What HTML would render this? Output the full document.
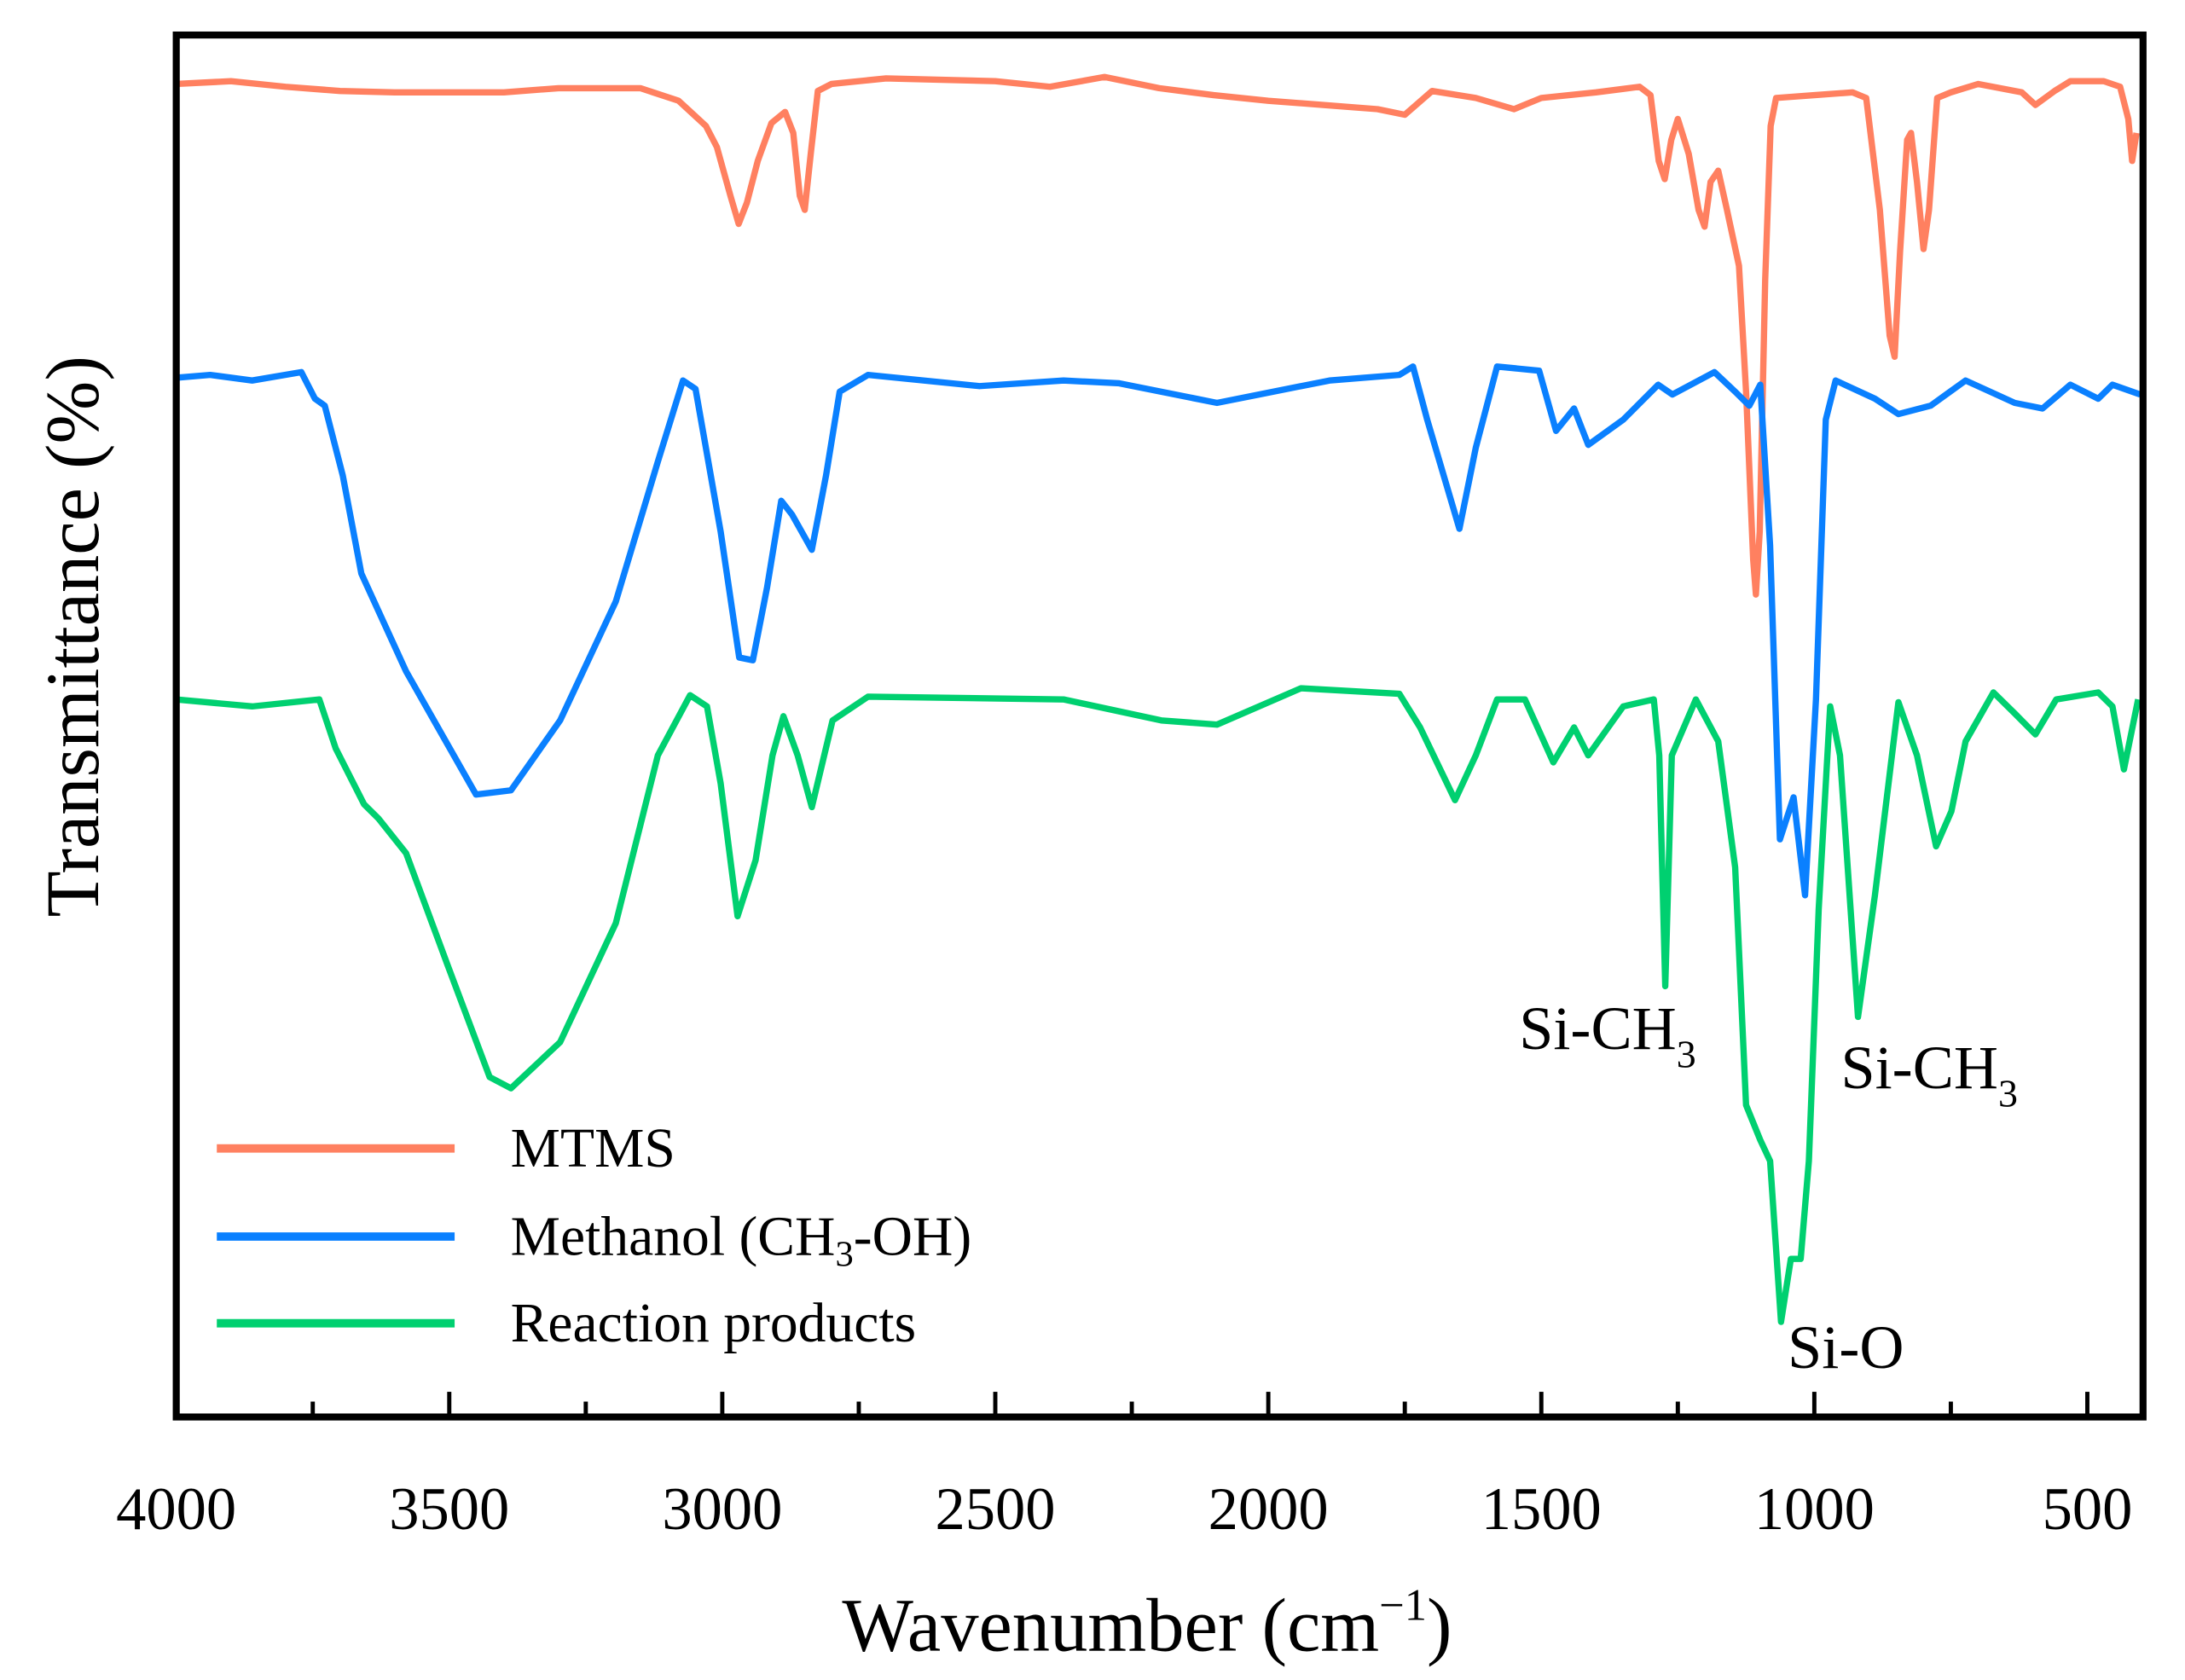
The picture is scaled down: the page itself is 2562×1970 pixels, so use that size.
<!DOCTYPE html>
<html><head><meta charset="utf-8"><style>
html,body{margin:0;padding:0;background:#fff;}
svg{display:block;font-family:"Liberation Serif",serif;}
</style></head><body>
<svg id="chart" width="2562" height="1970" viewBox="0 0 1562 1201" xmlns="http://www.w3.org/2000/svg">
<g id="plot"></g>
<rect x="126" y="25" width="1406" height="988" fill="none" stroke="#000" stroke-width="5"/>
<g id="xticks"></g>
<text x="820" y="1180" font-size="54" text-anchor="middle">Wavenumber (cm<tspan dy="-22" font-size="32">−1</tspan><tspan dy="22">)</tspan></text>
<text transform="translate(70,455) rotate(-90)" font-size="54" text-anchor="middle">Transmittance (%)</text>
<g font-size="40">
<line x1="155" y1="821" x2="325" y2="821" stroke="#FF8060" stroke-width="6"/>
<text x="365" y="834">MTMS</text>
<line x1="155" y1="884" x2="325" y2="884" stroke="#0A80FF" stroke-width="6"/>
<text x="365" y="897">Methanol (CH<tspan dy="8" font-size="26">3</tspan><tspan dy="-8">-OH)</tspan></text>
<line x1="155" y1="946" x2="325" y2="946" stroke="#00D070" stroke-width="6"/>
<text x="365" y="959">Reaction products</text>
</g>
<g font-size="44">
<text x="1086" y="750">Si-CH<tspan dy="13" font-size="28">3</tspan></text>
<text x="1316" y="778">Si-CH<tspan dy="13" font-size="28">3</tspan></text>
<text x="1278" y="978">Si-O</text>
</g>
</svg>
<script>
const mtmsWn=[4000,3900,3800,3700,3600,3400,3300,3150,3080,3030,3010,2985,2970,2955,2935,2910,2885,2870,2858,2849,2838,2825,2800,2700,2500,2400,2300,2200,2100,2000,1900,1800,1750,1700,1620,1550,1500,1400,1320,1300,1285,1274,1262,1250,1230,1212,1201,1190,1176,1160,1138,1125,1112,1107,1100,1090,1080,1070,1000,930,905,880,862,853,843,830,823,812,800,790,775,750,700,620,595,560,531,470,440,425,418,410];
const mtmsVal=[953,955,951,948,947,947,950,950,941,923,908,873,853,868,898,925,933,918,873,863,903,948,953,957,955,951,958,950,945,941,938,935,931,948,943,935,943,947,951,945,898,885,913,928,903,863,851,883,891,863,823,733,613,588,633,813,923,943,945,947,943,863,773,758,833,913,918,883,835,863,943,947,953,947,938,948,955,955,951,928,898,918];
const methWn=[4000,3938,3861,3771,3746,3728,3695,3661,3579,3451,3387,3297,3195,3118,3072,3049,3003,2969,2944,2918,2892,2872,2836,2810,2785,2733,2529,2375,2273,2094,2017,1888,1760,1735,1709,1650,1620,1581,1504,1473,1440,1414,1350,1286,1260,1183,1145,1119,1099,1081,1063,1038,1017,997,979,961,889,846,787,723,633,582,531,480,454,403];
const methVal=[743,745,741,747,728,723,673,603,533,445,448,498,583,683,741,735,633,543,541,593,655,645,620,673,733,745,737,741,739,725,731,741,745,751,713,635,693,751,748,705,721,695,713,738,731,747,733,723,738,623,413,443,373,513,713,741,728,717,723,741,725,721,738,728,738,731];
const reacWn=[4000,3861,3738,3708,3656,3630,3579,3503,3426,3387,3297,3195,3118,3059,3028,3003,2972,2939,2908,2888,2862,2836,2798,2733,2375,2196,2094,1940,1760,1722,1658,1620,1581,1530,1478,1440,1414,1350,1294,1284,1273,1261,1217,1176,1145,1125,1099,1081,1061,1043,1025,1010,992,971,953,920,889,846,812,777,749,723,672,633,595,557,480,454,433,407];
const reacVal=[513,508,513,478,438,428,403,323,243,235,268,353,473,516,508,453,358,398,473,501,473,436,498,515,513,498,495,521,517,493,441,473,513,513,468,493,473,508,513,473,308,473,513,483,393,223,198,183,68,113,113,183,363,508,473,286,373,511,473,408,433,483,518,503,488,513,518,508,463,513];
const xTicks=[4000,3500,3000,2500,2000,1500,1000,500];
const xTickLabels=["4000","3500","3000","2500","2000","1500","1000","500"];

const X0=126,X1=1532,W0=4000,W1=398,YB=1013;
function xs(w){return X0+(W0-w)/(W0-W1)*(X1-X0);}
function ys(v){return YB-v;}
const NS="http://www.w3.org/2000/svg";
const plot=document.getElementById('plot');
function drawSeries(wn,val,color,name){
  const p=document.createElementNS(NS,'path');
  let d='';
  for(let i=0;i<wn.length;i++){d+=(i?'L':'M')+xs(wn[i]).toFixed(2)+','+ys(val[i]).toFixed(2);}
  p.setAttribute('d',d);p.setAttribute('fill','none');p.setAttribute('stroke',color);
  p.setAttribute('stroke-width','4.5');p.setAttribute('stroke-linejoin','round');
  
  
  plot.appendChild(p);
}
drawSeries(mtmsWn,mtmsVal,'#FF8060','series-mtms');
drawSeries(methWn,methVal,'#0A80FF','series-methanol');
drawSeries(reacWn,reacVal,'#00D070','series-reaction-products');
const xt=document.getElementById('xticks');
for(let w=3750;w>=500;w-=250){
  const major=(w%500===0);
  const l=document.createElementNS(NS,'line');
  l.setAttribute('x1',xs(w));l.setAttribute('x2',xs(w));
  l.setAttribute('y1',YB);l.setAttribute('y2',YB-(major?18:11));
  l.setAttribute('stroke','#000');l.setAttribute('stroke-width','3');
  
  
  xt.appendChild(l);
}
xTicks.forEach((w,i)=>{
  const t=document.createElementNS(NS,'text');
  t.setAttribute('x',xs(w));t.setAttribute('y',1093);
  t.setAttribute('font-size','43');t.setAttribute('text-anchor','middle');
  t.textContent=xTickLabels[i];
  
  
  xt.appendChild(t);
});
</script>
</body></html>
